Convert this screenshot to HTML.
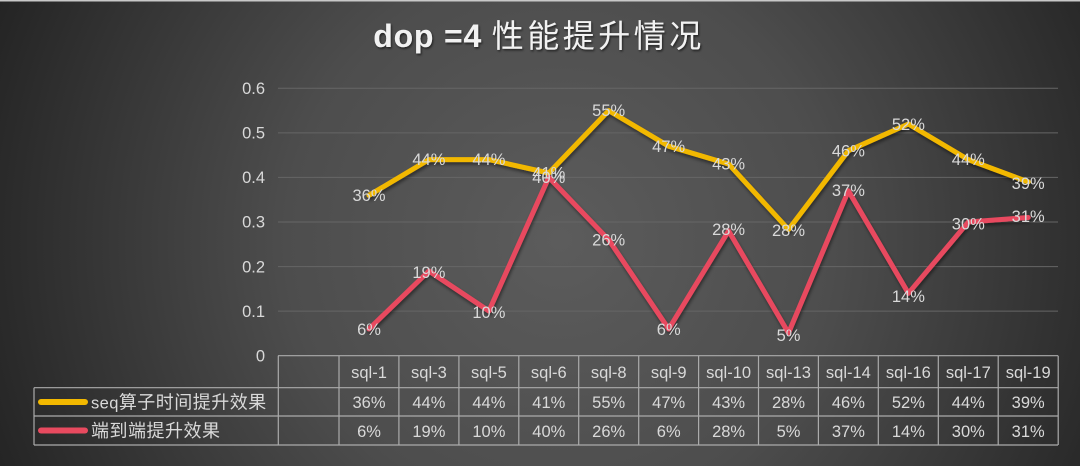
<!DOCTYPE html>
<html><head><meta charset="utf-8"><style>
html,body{margin:0;padding:0;background:#3a3a3a;}
svg{display:block;}
text{font-family:"Liberation Sans","Noto Sans CJK SC",sans-serif;}
</style></head><body>
<svg width="1080" height="466" viewBox="0 0 1080 466" xmlns="http://www.w3.org/2000/svg">
<defs>
<radialGradient id="bg" gradientUnits="userSpaceOnUse" cx="560" cy="240" r="610">
<stop offset="0" stop-color="#5c5c5c"/>
<stop offset="0.45" stop-color="#4d4d4d"/>
<stop offset="1" stop-color="#242424"/>
</radialGradient>
<filter id="sh" x="-5%" y="-5%" width="110%" height="120%">
<feDropShadow dx="1" dy="2.5" stdDeviation="1.5" flood-color="#000" flood-opacity="0.45"/>
</filter>
<filter id="tsh" x="-5%" y="-20%" width="110%" height="150%">
<feDropShadow dx="1" dy="1.5" stdDeviation="1" flood-color="#000" flood-opacity="0.6"/>
</filter>
</defs>
<rect width="1080" height="466" fill="url(#bg)"/>
<rect x="0" y="0" width="1080" height="1.5" fill="#c8c8c8"/>

<!-- title -->
<text x="539" y="47" text-anchor="middle" fill="#f2f2f2" filter="url(#tsh)" font-size="32"><tspan font-weight="bold" letter-spacing="0.8">dop =4 </tspan><tspan letter-spacing="3.5" font-family="'Noto Sans CJK SC',sans-serif">性能提升情况</tspan></text>

<!-- gridlines -->
<g stroke="#666" stroke-width="1">
<line x1="278" x2="1058" y1="311.1" y2="311.1"/>
<line x1="278" x2="1058" y1="266.6" y2="266.6"/>
<line x1="278" x2="1058" y1="222.0" y2="222.0"/>
<line x1="278" x2="1058" y1="177.4" y2="177.4"/>
<line x1="278" x2="1058" y1="132.9" y2="132.9"/>
<line x1="278" x2="1058" y1="88.3" y2="88.3"/>
</g>

<!-- y labels -->
<g fill="#d9d9d9" font-size="16.5" text-anchor="end">
<text x="265" y="361.5">0</text>
<text x="265" y="316.8">0.1</text>
<text x="265" y="272.3">0.2</text>
<text x="265" y="227.7">0.3</text>
<text x="265" y="183.1">0.4</text>
<text x="265" y="138.6">0.5</text>
<text x="265" y="94">0.6</text>
</g>

<!-- series -->
<g fill="none" stroke-width="5" stroke-linejoin="round" stroke-linecap="round" filter="url(#sh)">
<polyline stroke="#f2b800" points="369,195.3 428.9,159.6 488.9,159.6 548.8,173 608.7,110.6 668.7,146.2 728.6,164 788.5,229.5 848.4,150.7 908.4,124 968.3,159.6 1028.2,181.9"/>
<polyline stroke="#e84a5f" points="369,329 428.9,271 488.9,311 548.8,177.4 608.7,239.8 668.7,329 728.6,230.9 788.5,333 848.4,190.8 908.4,293.3 968.3,222 1028.2,217.5"/>
</g>

<!-- data labels -->
<g fill="#d9d9d9" font-size="16.5" text-anchor="middle">
<text x="369" y="201">36%</text>
<text x="428.9" y="165">44%</text>
<text x="488.9" y="165">44%</text>
<text x="548.8" y="178.5">41%</text>
<text x="608.7" y="116">55%</text>
<text x="668.7" y="152">47%</text>
<text x="728.6" y="169.5">43%</text>
<text x="788.5" y="236">28%</text>
<text x="848.4" y="156.5">46%</text>
<text x="908.4" y="130">52%</text>
<text x="968.3" y="165">44%</text>
<text x="1028.2" y="189">39%</text>

<text x="369" y="335">6%</text>
<text x="428.9" y="278">19%</text>
<text x="488.9" y="318">10%</text>
<text x="548.8" y="183">40%</text>
<text x="608.7" y="245.5">26%</text>
<text x="668.7" y="335">6%</text>
<text x="728.6" y="235">28%</text>
<text x="788.5" y="341">5%</text>
<text x="848.4" y="196">37%</text>
<text x="908.4" y="302">14%</text>
<text x="968.3" y="229.5">30%</text>
<text x="1028.2" y="222">31%</text>
</g>

<!-- data table -->
<g stroke="#ababab" stroke-width="1.2" fill="none">
<line x1="278" x2="1058" y1="355.7" y2="355.7"/>
<line x1="34" x2="1058" y1="387.7" y2="387.7"/>
<line x1="34" x2="1058" y1="416" y2="416"/>
<line x1="34" x2="1058" y1="445" y2="445"/>
<line x1="34" x2="34" y1="387.7" y2="445"/>
<line x1="278.3" x2="278.3" y1="355.7" y2="445"/>
<line x1="339" x2="339" y1="355.7" y2="445"/>
<line x1="398.9" x2="398.9" y1="355.7" y2="445"/>
<line x1="458.9" x2="458.9" y1="355.7" y2="445"/>
<line x1="518.8" x2="518.8" y1="355.7" y2="445"/>
<line x1="578.7" x2="578.7" y1="355.7" y2="445"/>
<line x1="638.7" x2="638.7" y1="355.7" y2="445"/>
<line x1="698.6" x2="698.6" y1="355.7" y2="445"/>
<line x1="758.5" x2="758.5" y1="355.7" y2="445"/>
<line x1="818.4" x2="818.4" y1="355.7" y2="445"/>
<line x1="878.3" x2="878.3" y1="355.7" y2="445"/>
<line x1="938.3" x2="938.3" y1="355.7" y2="445"/>
<line x1="998.2" x2="998.2" y1="355.7" y2="445"/>
<line x1="1058.2" x2="1058.2" y1="355.7" y2="445"/>
</g>

<!-- legend keys -->
<line x1="41" x2="85" y1="402" y2="402" stroke="#f2b800" stroke-width="6" stroke-linecap="round"/>
<line x1="41" x2="85" y1="430.5" y2="430.5" stroke="#e84a5f" stroke-width="6" stroke-linecap="round"/>
<g fill="#d9d9d9">
<text x="91" y="408.5" font-size="16.5" letter-spacing="0.4">seq<tspan font-size="18" letter-spacing="0.5" font-family="'Noto Sans CJK SC',sans-serif">算子时间提升效果</tspan></text>
<text x="91" y="437" font-size="18" letter-spacing="0.5" font-family="'Noto Sans CJK SC',sans-serif">端到端提升效果</text>
</g>

<g fill="#d9d9d9" font-size="16.5" text-anchor="middle">
<text x="369" y="378">sql-1</text>
<text x="428.9" y="378">sql-3</text>
<text x="488.9" y="378">sql-5</text>
<text x="548.8" y="378">sql-6</text>
<text x="608.7" y="378">sql-8</text>
<text x="668.7" y="378">sql-9</text>
<text x="728.6" y="378">sql-10</text>
<text x="788.5" y="378">sql-13</text>
<text x="848.4" y="378">sql-14</text>
<text x="908.4" y="378">sql-16</text>
<text x="968.3" y="378">sql-17</text>
<text x="1028.2" y="378">sql-19</text>

<text x="369" y="408">36%</text>
<text x="428.9" y="408">44%</text>
<text x="488.9" y="408">44%</text>
<text x="548.8" y="408">41%</text>
<text x="608.7" y="408">55%</text>
<text x="668.7" y="408">47%</text>
<text x="728.6" y="408">43%</text>
<text x="788.5" y="408">28%</text>
<text x="848.4" y="408">46%</text>
<text x="908.4" y="408">52%</text>
<text x="968.3" y="408">44%</text>
<text x="1028.2" y="408">39%</text>

<text x="369" y="437">6%</text>
<text x="428.9" y="437">19%</text>
<text x="488.9" y="437">10%</text>
<text x="548.8" y="437">40%</text>
<text x="608.7" y="437">26%</text>
<text x="668.7" y="437">6%</text>
<text x="728.6" y="437">28%</text>
<text x="788.5" y="437">5%</text>
<text x="848.4" y="437">37%</text>
<text x="908.4" y="437">14%</text>
<text x="968.3" y="437">30%</text>
<text x="1028.2" y="437">31%</text>
</g>
</svg>
</body></html>
